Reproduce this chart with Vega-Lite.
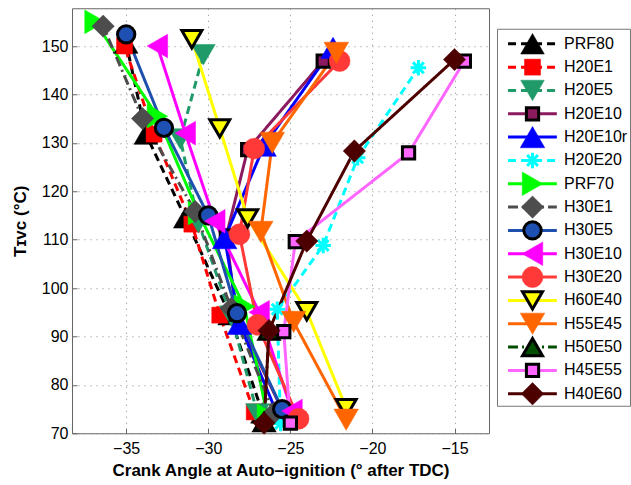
{
  "$schema": "https://vega.github.io/schema/vega-lite/v6.json",
  "padding": {"left": 10, "top": 7, "right": 0, "bottom": 0},
  "config": {"font": "Liberation Sans", "view": {"stroke": null}},
  "datasets": {
    "pts": [
      {"series": "PRF80", "crank_angle": -35.0, "t_ivc": 150.6},
      {"series": "PRF80", "crank_angle": -33.8, "t_ivc": 131.8},
      {"series": "PRF80", "crank_angle": -31.4, "t_ivc": 114.5},
      {"series": "PRF80", "crank_angle": -28.7, "t_ivc": 94.5},
      {"series": "PRF80", "crank_angle": -26.7, "t_ivc": 74.2},
      {"series": "H20E1", "crank_angle": -35.1, "t_ivc": 150.0},
      {"series": "H20E1", "crank_angle": -33.3, "t_ivc": 131.8},
      {"series": "H20E1", "crank_angle": -31.0, "t_ivc": 113.2},
      {"series": "H20E1", "crank_angle": -29.3, "t_ivc": 94.4},
      {"series": "H20E1", "crank_angle": -27.2, "t_ivc": 74.4},
      {"series": "H20E5", "crank_angle": -30.3, "t_ivc": 148.2},
      {"series": "H20E5", "crank_angle": -31.7, "t_ivc": 130.8},
      {"series": "H20E5", "crank_angle": -30.6, "t_ivc": 113.5},
      {"series": "H20E5", "crank_angle": -28.6, "t_ivc": 94.2},
      {"series": "H20E5", "crank_angle": -27.0, "t_ivc": 74.0},
      {"series": "H20E10", "crank_angle": -23.0, "t_ivc": 146.9},
      {"series": "H20E10", "crank_angle": -27.6, "t_ivc": 128.6},
      {"series": "H20E10", "crank_angle": -28.9, "t_ivc": 110.8},
      {"series": "H20E10", "crank_angle": -28.3, "t_ivc": 94.6},
      {"series": "H20E10", "crank_angle": -25.5, "t_ivc": 74.8},
      {"series": "H20E10r", "crank_angle": -22.4, "t_ivc": 149.6},
      {"series": "H20E10r", "crank_angle": -26.6, "t_ivc": 129.4},
      {"series": "H20E10r", "crank_angle": -29.0, "t_ivc": 110.3},
      {"series": "H20E10r", "crank_angle": -28.1, "t_ivc": 92.6},
      {"series": "H20E10r", "crank_angle": -25.8, "t_ivc": 74.0},
      {"series": "H20E20", "crank_angle": -17.2, "t_ivc": 145.5},
      {"series": "H20E20", "crank_angle": -20.9, "t_ivc": 126.9},
      {"series": "H20E20", "crank_angle": -23.0, "t_ivc": 108.8},
      {"series": "H20E20", "crank_angle": -25.8, "t_ivc": 95.6},
      {"series": "H20E20", "crank_angle": -25.6, "t_ivc": 72.0},
      {"series": "PRF70", "crank_angle": -36.9, "t_ivc": 155.0},
      {"series": "PRF70", "crank_angle": -33.1, "t_ivc": 135.5},
      {"series": "PRF70", "crank_angle": -30.6, "t_ivc": 115.5},
      {"series": "PRF70", "crank_angle": -27.8, "t_ivc": 96.2},
      {"series": "PRF70", "crank_angle": -26.4, "t_ivc": 73.6},
      {"series": "H30E1", "crank_angle": -36.4, "t_ivc": 154.1},
      {"series": "H30E1", "crank_angle": -34.0, "t_ivc": 135.0},
      {"series": "H30E1", "crank_angle": -30.8, "t_ivc": 115.8},
      {"series": "H30E1", "crank_angle": -28.6, "t_ivc": 95.8},
      {"series": "H30E1", "crank_angle": -26.0, "t_ivc": 74.2},
      {"series": "H30E5", "crank_angle": -35.0, "t_ivc": 152.4},
      {"series": "H30E5", "crank_angle": -32.7, "t_ivc": 133.1},
      {"series": "H30E5", "crank_angle": -30.0, "t_ivc": 115.0},
      {"series": "H30E5", "crank_angle": -28.25, "t_ivc": 94.8},
      {"series": "H30E5", "crank_angle": -25.5, "t_ivc": 75.0},
      {"series": "H30E10", "crank_angle": -33.1, "t_ivc": 150.0},
      {"series": "H30E10", "crank_angle": -31.4, "t_ivc": 132.0},
      {"series": "H30E10", "crank_angle": -29.6, "t_ivc": 113.8},
      {"series": "H30E10", "crank_angle": -26.9, "t_ivc": 95.0},
      {"series": "H30E10", "crank_angle": -24.9, "t_ivc": 74.6},
      {"series": "H30E20", "crank_angle": -22.0, "t_ivc": 146.9},
      {"series": "H30E20", "crank_angle": -27.2, "t_ivc": 128.8},
      {"series": "H30E20", "crank_angle": -28.1, "t_ivc": 111.1},
      {"series": "H30E20", "crank_angle": -27.0, "t_ivc": 92.4},
      {"series": "H30E20", "crank_angle": -24.5, "t_ivc": 73.0},
      {"series": "H60E40", "crank_angle": -31.0, "t_ivc": 151.4},
      {"series": "H60E40", "crank_angle": -29.3, "t_ivc": 133.0},
      {"series": "H60E40", "crank_angle": -27.6, "t_ivc": 114.4},
      {"series": "H60E40", "crank_angle": -24.0, "t_ivc": 95.2},
      {"series": "H60E40", "crank_angle": -21.6, "t_ivc": 75.2},
      {"series": "H55E45", "crank_angle": -22.2, "t_ivc": 148.6},
      {"series": "H55E45", "crank_angle": -26.1, "t_ivc": 130.0},
      {"series": "H55E45", "crank_angle": -26.8, "t_ivc": 111.6},
      {"series": "H55E45", "crank_angle": -24.8, "t_ivc": 93.0},
      {"series": "H55E45", "crank_angle": -21.6, "t_ivc": 72.8},
      {"series": "H50E50", "crank_angle": -26.3, "t_ivc": 91.2},
      {"series": "H50E50", "crank_angle": -26.6, "t_ivc": 72.3},
      {"series": "H45E55", "crank_angle": -14.4, "t_ivc": 146.9},
      {"series": "H45E55", "crank_angle": -17.8, "t_ivc": 127.9},
      {"series": "H45E55", "crank_angle": -24.7, "t_ivc": 109.6},
      {"series": "H45E55", "crank_angle": -25.4, "t_ivc": 91.0},
      {"series": "H45E55", "crank_angle": -25.0, "t_ivc": 72.1},
      {"series": "H40E60", "crank_angle": -15.0, "t_ivc": 147.2},
      {"series": "H40E60", "crank_angle": -21.1, "t_ivc": 128.3},
      {"series": "H40E60", "crank_angle": -24.0, "t_ivc": 109.7},
      {"series": "H40E60", "crank_angle": -26.3, "t_ivc": 91.2},
      {"series": "H40E60", "crank_angle": -26.6, "t_ivc": 72.1}
    ],
    "names": [
      {"series": "PRF80"}, {"series": "H20E1"}, {"series": "H20E5"}, {"series": "H20E10"},
      {"series": "H20E10r"}, {"series": "H20E20"}, {"series": "PRF70"}, {"series": "H30E1"},
      {"series": "H30E5"}, {"series": "H30E10"}, {"series": "H30E20"}, {"series": "H60E40"},
      {"series": "H55E45"}, {"series": "H50E50"}, {"series": "H45E55"}, {"series": "H40E60"}
    ]
  },
  "center": true,
  "spacing": 6,
  "hconcat": [
    {
      "width": 417,
      "height": 425,
      "view": {"stroke": "#666", "strokeWidth": 1},
      "data": {"name": "pts"},
      "encoding": {
        "x": {
          "field": "crank_angle", "type": "quantitative",
          "scale": {"domain": [-38.3, -12.9], "nice": false, "zero": false},
          "axis": {
            "title": "Crank Angle at Auto\u2013ignition (\u00b0 after TDC)",
            "values": [-35, -30, -25, -20, -15],
            "domain": false, "tickSize": -5, "tickColor": "#666", "labelPadding": 12,
            "labelFontSize": 16, "labelColor": "#000", "labelFont": "Liberation Sans",
            "titleFontSize": 17, "titleFontWeight": "bold", "titleColor": "#000", "titlePadding": 6,
            "grid": true, "gridDash": [1, 5], "gridColor": "#888", "gridOpacity": 1
          }
        },
        "y": {
          "field": "t_ivc", "type": "quantitative",
          "scale": {"domain": [70, 157.8], "nice": false, "zero": false},
          "axis": {
            "title": "T\u026a\u1d20\u1d04 (\u00b0C)",
            "values": [70, 80, 90, 100, 110, 120, 130, 140, 150],
            "domain": false, "tickSize": -5, "tickColor": "#666", "labelPadding": 9,
            "labelFontSize": 16, "labelColor": "#000",
            "titleFontSize": 17, "titleFontWeight": "bold", "titleColor": "#000", "titlePadding": 12,
            "grid": true, "gridDash": [1, 5], "gridColor": "#888", "gridOpacity": 1
          }
        }
      },
      "layer": [
        {
          "mark": {"type": "line", "strokeWidth": 3},
          "encoding": {
            "order": {"field": "t_ivc", "type": "quantitative"},
            "color": {
              "field": "series", "type": "nominal", "legend": null,
              "scale": {
                "domain": ["PRF80", "H20E1", "H20E5", "H20E10", "H20E10r", "H20E20", "PRF70", "H30E1", "H30E5", "H30E10", "H30E20", "H60E40", "H55E45", "H50E50", "H45E55", "H40E60"],
                "range": ["#000000", "#ff0000", "#1f9a68", "#8b1a5e", "#0000ff", "#00ffff", "#00ff00", "#4d4d4d", "#2050ae", "#ff00ff", "#ff3838", "#ffff00", "#ff6600", "#004d00", "#ff66ff", "#4d0000"]
              }
            },
            "strokeDash": {
              "field": "series", "type": "nominal", "legend": null,
              "scale": {
                "type": "ordinal",
                "domain": ["PRF80", "H20E1", "H20E5", "H20E10", "H20E10r", "H20E20", "PRF70", "H30E1", "H30E5", "H30E10", "H30E20", "H60E40", "H55E45", "H50E50", "H45E55", "H40E60"],
                "range": [[8, 5], [8, 5], [8, 5], [1, 0], [1, 0], [8, 5], [1, 0], [10, 4, 2, 4], [1, 0], [1, 0], [1, 0], [1, 0], [1, 0], [10, 4, 2, 4], [1, 0], [1, 0]]
              }
            }
          }
        },
        {
          "mark": {"type": "point", "filled": true, "opacity": 1},
          "encoding": {
            "shape": {
              "field": "series", "type": "nominal", "legend": null,
              "scale": {
                "domain": ["PRF80", "H20E1", "H20E5", "H20E10", "H20E10r", "H20E20", "PRF70", "H30E1", "H30E5", "H30E10", "H30E20", "H60E40", "H55E45", "H50E50", "H45E55", "H40E60"],
                "range": ["triangle-up", "square", "triangle-down", "square", "triangle-up", "M0,-1L0,1M-1,0L1,0M-0.7,-0.7L0.7,0.7M-0.7,0.7L0.7,-0.7", "triangle-right", "diamond", "circle", "triangle-left", "circle", "triangle-down", "triangle-down", "triangle-up", "square", "diamond"]
              }
            },
            "fill": {
              "field": "series", "type": "nominal", "legend": null,
              "scale": {
                "domain": ["PRF80", "H20E1", "H20E5", "H20E10", "H20E10r", "H20E20", "PRF70", "H30E1", "H30E5", "H30E10", "H30E20", "H60E40", "H55E45", "H50E50", "H45E55", "H40E60"],
                "range": ["#000000", "#ff0000", "#1f9a68", "#8b1a5e", "#0000ff", "#00ffff", "#00ff00", "#4d4d4d", "#1e50b4", "#ff00ff", "#ff3838", "#ffff00", "#ff6600", "#004d00", "#ff66ff", "#4d0000"]
              }
            },
            "stroke": {
              "field": "series", "type": "nominal", "legend": null,
              "scale": {
                "domain": ["PRF80", "H20E1", "H20E5", "H20E10", "H20E10r", "H20E20", "PRF70", "H30E1", "H30E5", "H30E10", "H30E20", "H60E40", "H55E45", "H50E50", "H45E55", "H40E60"],
                "range": ["#000000", "#ff0000", "#1f9a68", "#000000", "#0000ff", "#00ffff", "#00ff00", "#4d4d4d", "#000000", "#ff00ff", "#ff3838", "#000000", "#ff6600", "#000000", "#000000", "#4d0000"]
              }
            },
            "strokeWidth": {
              "field": "series", "type": "nominal", "legend": null,
              "scale": {
                "type": "ordinal",
                "domain": ["PRF80", "H20E1", "H20E5", "H20E10", "H20E10r", "H20E20", "PRF70", "H30E1", "H30E5", "H30E10", "H30E20", "H60E40", "H55E45", "H50E50", "H45E55", "H40E60"],
                "range": [0.5, 0.5, 0.5, 3, 0.5, 3, 0.5, 0.5, 3, 0.5, 0.5, 3, 0.5, 3, 3, 0.5]
              }
            },
            "size": {
              "field": "series", "type": "nominal", "legend": null,
              "scale": {
                "type": "ordinal",
                "domain": ["PRF80", "H20E1", "H20E5", "H20E10", "H20E10r", "H20E20", "PRF70", "H30E1", "H30E5", "H30E10", "H30E20", "H60E40", "H55E45", "H50E50", "H45E55", "H40E60"],
                "range": [560, 256, 560, 150, 600, 240, 560, 500, 300, 560, 440, 400, 600, 400, 150, 500]
              }
            }
          }
        }
      ]
    },
    {
      "width": 133,
      "height": 377,
      "view": {"stroke": "#777", "strokeWidth": 1},
      "data": {"name": "names"},
      "encoding": {
        "x": {
          "datum": 0, "type": "quantitative",
          "scale": {"domain": [0, 10], "nice": false, "zero": false},
          "axis": {"orient": "bottom", "labels": false, "ticks": false, "domain": false, "grid": false, "title": null, "minExtent": 52, "maxExtent": 52}
        },
        "y": {
          "field": "series", "type": "nominal", "axis": null,
          "scale": {
            "type": "point", "padding": 0.58, "align": 0.556,
            "domain": ["PRF80", "H20E1", "H20E5", "H20E10", "H20E10r", "H20E20", "PRF70", "H30E1", "H30E5", "H30E10", "H30E20", "H60E40", "H55E45", "H50E50", "H45E55", "H40E60"]
          }
        }
      },
      "layer": [
        {
          "mark": {"type": "rule", "strokeWidth": 3},
          "encoding": {
            "x": {"datum": 0.83, "type": "quantitative"},
            "x2": {"datum": 4.5},
            "color": {
              "field": "series", "type": "nominal", "legend": null,
              "scale": {
                "domain": ["PRF80", "H20E1", "H20E5", "H20E10", "H20E10r", "H20E20", "PRF70", "H30E1", "H30E5", "H30E10", "H30E20", "H60E40", "H55E45", "H50E50", "H45E55", "H40E60"],
                "range": ["#000000", "#ff0000", "#1f9a68", "#8b1a5e", "#0000ff", "#00ffff", "#00ff00", "#4d4d4d", "#2050ae", "#ff00ff", "#ff3838", "#ffff00", "#ff6600", "#004d00", "#ff66ff", "#4d0000"]
              }
            },
            "strokeDash": {
              "field": "series", "type": "nominal", "legend": null,
              "scale": {
                "type": "ordinal",
                "domain": ["PRF80", "H20E1", "H20E5", "H20E10", "H20E10r", "H20E20", "PRF70", "H30E1", "H30E5", "H30E10", "H30E20", "H60E40", "H55E45", "H50E50", "H45E55", "H40E60"],
                "range": [[8, 5], [8, 5], [8, 5], [1, 0], [1, 0], [8, 5], [1, 0], [10, 4, 2, 4], [1, 0], [1, 0], [1, 0], [1, 0], [1, 0], [10, 4, 2, 4], [1, 0], [1, 0]]
              }
            }
          }
        },
        {
          "mark": {"type": "point", "filled": true, "opacity": 1},
          "encoding": {
            "x": {"datum": 2.67, "type": "quantitative"},
            "shape": {
              "field": "series", "type": "nominal", "legend": null,
              "scale": {
                "domain": ["PRF80", "H20E1", "H20E5", "H20E10", "H20E10r", "H20E20", "PRF70", "H30E1", "H30E5", "H30E10", "H30E20", "H60E40", "H55E45", "H50E50", "H45E55", "H40E60"],
                "range": ["triangle-up", "square", "triangle-down", "square", "triangle-up", "M0,-1L0,1M-1,0L1,0M-0.7,-0.7L0.7,0.7M-0.7,0.7L0.7,-0.7", "triangle-right", "diamond", "circle", "triangle-left", "circle", "triangle-down", "triangle-down", "triangle-up", "square", "diamond"]
              }
            },
            "fill": {
              "field": "series", "type": "nominal", "legend": null,
              "scale": {
                "domain": ["PRF80", "H20E1", "H20E5", "H20E10", "H20E10r", "H20E20", "PRF70", "H30E1", "H30E5", "H30E10", "H30E20", "H60E40", "H55E45", "H50E50", "H45E55", "H40E60"],
                "range": ["#000000", "#ff0000", "#1f9a68", "#8b1a5e", "#0000ff", "#00ffff", "#00ff00", "#4d4d4d", "#1e50b4", "#ff00ff", "#ff3838", "#ffff00", "#ff6600", "#004d00", "#ff66ff", "#4d0000"]
              }
            },
            "stroke": {
              "field": "series", "type": "nominal", "legend": null,
              "scale": {
                "domain": ["PRF80", "H20E1", "H20E5", "H20E10", "H20E10r", "H20E20", "PRF70", "H30E1", "H30E5", "H30E10", "H30E20", "H60E40", "H55E45", "H50E50", "H45E55", "H40E60"],
                "range": ["#000000", "#ff0000", "#1f9a68", "#000000", "#0000ff", "#00ffff", "#00ff00", "#4d4d4d", "#000000", "#ff00ff", "#ff3838", "#000000", "#ff6600", "#000000", "#000000", "#4d0000"]
              }
            },
            "strokeWidth": {
              "field": "series", "type": "nominal", "legend": null,
              "scale": {
                "type": "ordinal",
                "domain": ["PRF80", "H20E1", "H20E5", "H20E10", "H20E10r", "H20E20", "PRF70", "H30E1", "H30E5", "H30E10", "H30E20", "H60E40", "H55E45", "H50E50", "H45E55", "H40E60"],
                "range": [0.5, 0.5, 0.5, 3, 0.5, 3, 0.5, 0.5, 3, 0.5, 0.5, 3, 0.5, 3, 3, 0.5]
              }
            },
            "size": {
              "field": "series", "type": "nominal", "legend": null,
              "scale": {
                "type": "ordinal",
                "domain": ["PRF80", "H20E1", "H20E5", "H20E10", "H20E10r", "H20E20", "PRF70", "H30E1", "H30E5", "H30E10", "H30E20", "H60E40", "H55E45", "H50E50", "H45E55", "H40E60"],
                "range": [560, 256, 560, 150, 600, 240, 560, 500, 300, 560, 440, 400, 600, 400, 150, 500]
              }
            }
          }
        },
        {
          "mark": {"type": "text", "align": "left", "baseline": "middle", "fontSize": 16, "font": "Liberation Sans", "color": "#000"},
          "encoding": {
            "x": {"datum": 5.04, "type": "quantitative"},
            "text": {"field": "series", "type": "nominal"}
          }
        }
      ]
    }
  ]
}
